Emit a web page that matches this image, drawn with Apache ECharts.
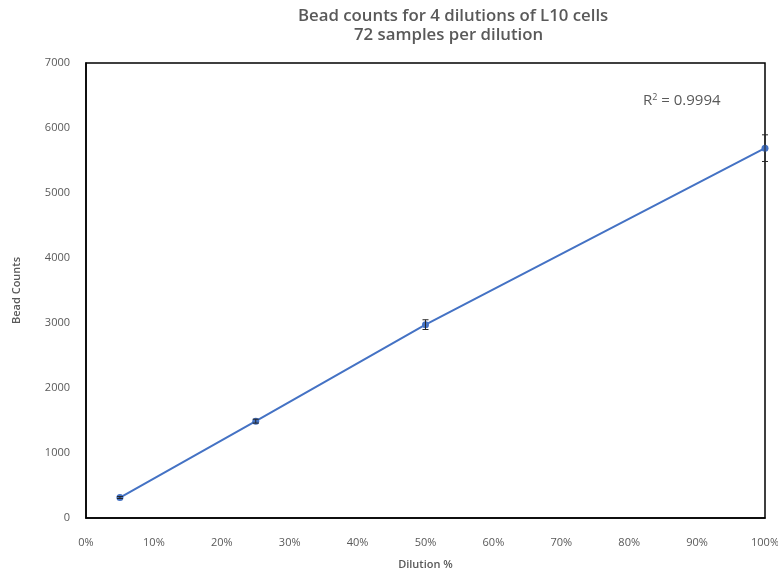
<!DOCTYPE html>
<html><head><meta charset="utf-8">
<script src="https://cdn.jsdelivr.net/npm/echarts@6/dist/echarts.min.js"></script>
<style>html,body{margin:0;padding:0;background:#fff}#c{width:778px;height:571px}</style>
</head><body><div id="c"></div>
<script>
var dilutions = [5, 25, 50, 100];
var beadCounts = [315, 1490, 2975, 5690];
var errors = [15, 30, 75, 205];
var xTicks = [0,10,20,30,40,50,60,70,80,90,100];
var yTicks = [0,1000,2000,3000,4000,5000,6000,7000];
var titleLine1 = 'Bead counts for 4 dilutions of L10 cells';
var titleLine2 = '72 samples per dilution';
var rSquared = '0.9994';

var font = 'Open Sans';
var chart = echarts.init(document.getElementById('c'));
var lineData = dilutions.map(function(d,i){return [d, beadCounts[i]];});
var errData = dilutions.map(function(d,i){return [d, beadCounts[i]-errors[i], beadCounts[i]+errors[i]];});
chart.setOption({
  animation:false,
  title:[
    {text:titleLine1,left:298,top:8,padding:0,textStyle:{fontFamily:font,fontSize:16.8,fontWeight:600,color:'#595959'}},
    {text:titleLine2,left:354,top:27,padding:0,textStyle:{fontFamily:font,fontSize:16.8,fontWeight:600,color:'#595959'}}
  ],
  grid:{left:86,right:13,top:63,bottom:53,show:true,borderColor:'#000',borderWidth:1.5,containLabel:false,outerBoundsMode:'none'},
  xAxis:{type:'value',min:0,max:100,interval:10,
    name:'Dilution %',nameLocation:'middle',nameGap:41,
    nameTextStyle:{fontFamily:font,fontSize:11,fontWeight:600,color:'#595959'},
    axisLine:{show:true,lineStyle:{color:'#000',width:1.5}},axisTick:{show:false},splitLine:{show:false},
    axisLabel:{margin:19,fontFamily:font,fontSize:11,color:'#595959',formatter:function(v){return v+'%';}}},
  yAxis:{type:'value',min:0,max:7000,interval:1000,
    name:'Bead Counts',nameLocation:'middle',nameGap:64,
    nameTextStyle:{fontFamily:font,fontSize:11,fontWeight:600,color:'#595959'},
    axisLine:{show:true,lineStyle:{color:'#000',width:1.5}},axisTick:{show:false},splitLine:{show:false},
    axisLabel:{margin:16,fontFamily:font,fontSize:11,color:'#595959',formatter:function(v){return String(v);}}},
  graphic:[{type:'text',left:643,top:93,style:{
    text:'{a|R}{s|2}{a| = '+rSquared+'}',
    rich:{a:{fontFamily:font,fontSize:15,fill:'#595959'},s:{fontFamily:font,fontSize:9,fill:'#595959',verticalAlign:'top',padding:[0,0,7,0]}}}}],
  series:[
    {type:'line',data:lineData,symbol:'circle',symbolSize:7,
     lineStyle:{color:'#4472C4',width:2},itemStyle:{color:'#4472C4'},z:3},
    {type:'custom',data:errData,z:4,
     renderItem:function(params,api){
       var x=api.value(0);
       var lo=api.coord([x,api.value(1)]), hi=api.coord([x,api.value(2)]);
       var w=3;
       var st={stroke:'#262626',lineWidth:1};
       return {type:'group',children:[
         {type:'line',shape:{x1:lo[0],y1:lo[1],x2:hi[0],y2:hi[1]},style:st},
         {type:'line',shape:{x1:lo[0]-w,y1:lo[1],x2:lo[0]+w,y2:lo[1]},style:st},
         {type:'line',shape:{x1:hi[0]-w,y1:hi[1],x2:hi[0]+w,y2:hi[1]},style:st}
       ]};
     }}
  ]
});
</script></body></html>
